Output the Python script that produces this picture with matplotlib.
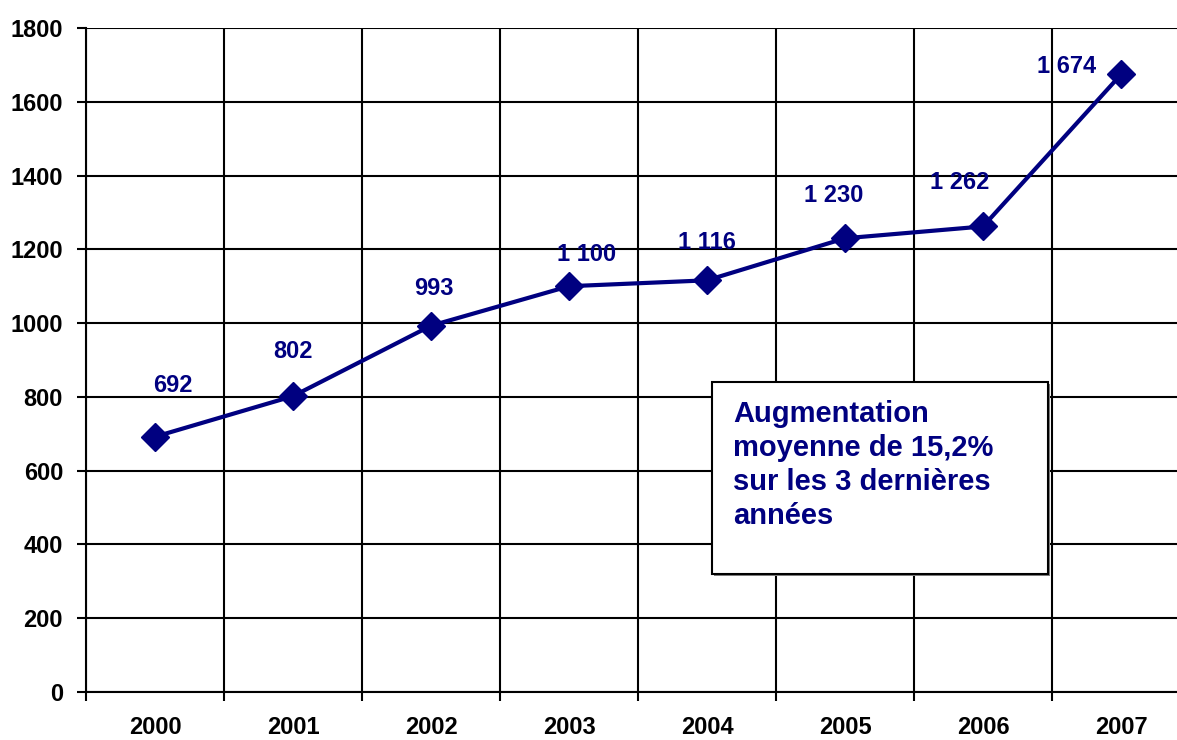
import matplotlib
matplotlib.use("Agg")
import matplotlib.pyplot as plt
from matplotlib.patches import Rectangle

plt.rcParams['font.family'] = ['Liberation Sans', 'DejaVu Sans']
plt.rcParams['font.weight'] = 'bold'

# données
annees = ['2000', '2001', '2002', '2003', '2004', '2005', '2006', '2007']
valeurs = [692, 802, 993, 1100, 1116, 1230, 1262, 1674]
etiquettes = ['692', '802', '993', '1 100', '1 116', '1 230', '1 262', '1 674']
yticks = [0, 200, 400, 600, 800, 1000, 1200, 1400, 1600, 1800]
texte_encadre = "Augmentation\nmoyenne de 15,2%\nsur les 3 dernières\nannées"

# décalage des étiquettes (en points)
decalages = [(13, 37), (0, 32), (2, 27), (13, 23), (0, 27), (-8, 31), (-17, 32), (-39, 6)]

bleu = '#000080'
W, H = 1177, 740
fig = plt.figure(figsize=(W / 100, H / 100), dpi=100)
ax = fig.add_axes([86 / W, 1 - 692 / H, (1190 - 86) / W, (692 - 28) / H])

x = list(range(len(annees)))
ax.plot(x, valeurs, color=bleu, lw=3, marker='D', ms=14, mfc=bleu, mec=bleu, zorder=3,
        clip_on=False)

for xi, v, lab, d in zip(x, valeurs, etiquettes, decalages):
    ax.annotate(lab, (xi, v), xytext=d, textcoords='offset points', ha='center',
                va='center', color=bleu, fontsize=17, fontweight='bold', zorder=4)

ax.set_xlim(-0.5, len(annees) - 0.5)
ax.set_ylim(0, 1800)
ax.set_yticks(yticks)
ax.set_yticklabels([str(t) for t in yticks], fontsize=17, fontweight='bold')
ax.set_xticks(x)
ax.set_xticklabels(annees, fontsize=17, fontweight='bold')
ax.set_xticks([i - 0.5 for i in range(len(annees) + 1)], minor=True)
ax.tick_params(axis='x', which='major', length=0, pad=17)
ax.tick_params(axis='x', which='minor', length=6.5, width=1.5, direction='out')
ax.tick_params(axis='y', length=6.5, width=1.5, direction='out', pad=10)

ax.grid(True, axis='y', color='black', lw=1.5)
ax.grid(True, axis='x', which='minor', color='black', lw=1.5)
ax.set_axisbelow(True)
for s in ['top', 'right']:
    ax.spines[s].set_visible(False)
ax.spines['left'].set_linewidth(1.5)
ax.spines['bottom'].set_linewidth(1.5)

# encadré
x0, y0, x1, y1 = 712, 382, 1048, 574
fig.patches.append(Rectangle((x0 / W + 2 / W, 1 - (y1 + 2) / H), (x1 - x0) / W, (y1 - y0) / H,
                             transform=fig.transFigure, facecolor='#808080', edgecolor='none',
                             zorder=5))
fig.patches.append(Rectangle((x0 / W, 1 - y1 / H), (x1 - x0) / W, (y1 - y0) / H,
                             transform=fig.transFigure, facecolor='white', edgecolor='black',
                             lw=1.5, zorder=6))
fig.text(733 / W, 1 - 400 / H, texte_encadre, ha='left', va='top', color=bleu,
         fontsize=21, fontweight='bold', linespacing=1.27, zorder=7)

fig.savefig('out.png', dpi=100)
